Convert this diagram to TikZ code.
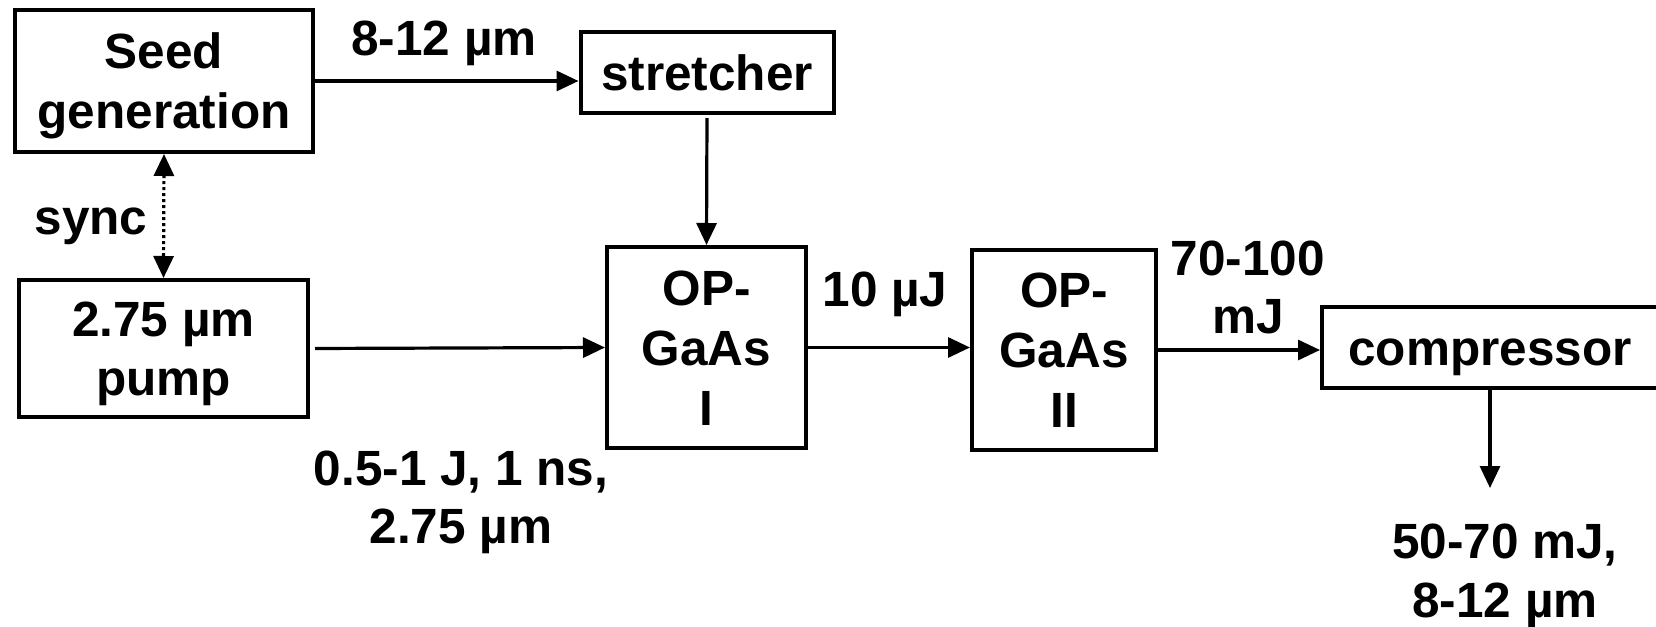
\documentclass[tikz,border=0pt]{standalone}
\usepackage{fontspec}
\setmainfont{Liberation Sans}
\usetikzlibrary{arrows.meta}
% one text line whose box is cut to the cap height, with no depth
\newcommand\capline[1]{\raisebox{0pt}[17.7pt][0pt]{#1}}

\begin{document}
\begin{tikzpicture}[x=0.5pt,y=-0.5pt,
  txt/.style={font=\bfseries\fontsize{24.75}{30}\selectfont, inner sep=0pt, align=center},
  box/.style={txt, draw, line width=2pt},
  arr/.style={line width=1.6pt, -{Triangle[length=11pt,width=10pt]}},
  syncarr/.style={line width=1.6pt, dash pattern=on 1.5pt off 1.5pt,
    {Triangle[length=11pt,width=10pt]}-{Triangle[length=11pt,width=10pt]}}
]
\useasboundingbox (0,0) rectangle (1656,627);

% blocks of the amplifier chain
\node[box, minimum width=149pt, minimum height=71pt] (seed) at (164,81)
  {\capline{Seed}\\\capline{generation}};
\node[box, minimum width=126.5pt, minimum height=40.5pt] (str) at (707,72.5)
  {\capline{stretcher}};
\node[box, minimum width=144.5pt, minimum height=68.5pt,
      font=\bfseries\fontsize{24.75}{29.5}\selectfont] (pump) at (163.5,348.5)
  {\capline{2.75 µm}\\\capline{pump}};
\node[box, minimum width=99.5pt, minimum height=100.5pt] (opa1) at (706.5,347.5)
  {\capline{OP-}\\\capline{GaAs}\\\capline{I}};
\node[box, minimum width=92pt, minimum height=100pt] (opa2) at (1064,350)
  {\capline{OP-}\\\capline{GaAs}\\\capline{II}};
\node[box, minimum width=168pt, minimum height=40.5pt] (comp) at (1490,347.5)
  {\capline{compressor}};
\coordinate (out) at (1490,488);

% beam paths
\draw[arr] (seed.east) -- (seed.east -| str.west);
\draw[arr, shorten <=1.5pt] (str.south) -- (opa1.north);
\draw[syncarr] (seed.south) -- (pump.north);
\draw[arr, shorten <=2.5pt] (pump.east) -- (opa1.west);
\draw[arr] (opa1.east) -- (opa1.east -| opa2.west);
\draw[arr] (opa2.east) -- (opa2.east -| comp.west);
\draw[arr] (comp.south) -- (out);

% beam parameters
\node[txt, anchor=base] (lseed) at (444,55) {8-12 µm};
\node[txt, anchor=base] (lsync) at (91,234) {sync};
\node[txt, font=\bfseries\fontsize{24.75}{29}\selectfont] (lpump) at (461,496.3)
  {\capline{0.5-1 J, 1 ns,}\\\capline{2.75 µm}};
\node[txt, anchor=base] (lopa1) at (885,306) {10 µJ};
\node[txt, font=\bfseries\fontsize{24.75}{29}\selectfont] (lopa2) at (1248,286.8)
  {\capline{70-100}\\\capline{mJ}};
\node[txt, font=\bfseries\fontsize{24.75}{29.5}\selectfont] (lout) at (1505,569.8)
  {\capline{50-70 mJ,}\\\capline{8-12 µm}};
\end{tikzpicture}
\end{document}
